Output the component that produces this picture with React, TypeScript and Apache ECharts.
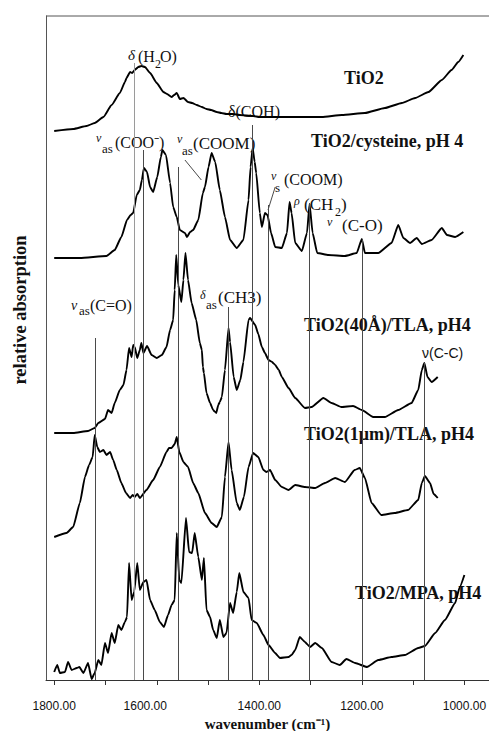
import React, { useEffect, useRef } from 'react';
import * as echarts from 'echarts';

// ---------------- DATA ----------------
const tickValues = [1800, 1700, 1600, 1500, 1400, 1300, 1200, 1100, 1000];
const labelValues = [1800, 1600, 1400, 1200, 1000];

const sampleNames = [
  'TiO2',
  'TiO2/cysteine, pH 4',
  'TiO2(40Å)/TLA, pH4',
  'TiO2(1μm)/TLA, pH4',
  'TiO2/MPA, pH4',
];

// [wavenumber (cm-1), relative absorption (stacked, a.u.)]
const tio2 = [
  [1800, 549], [1763, 551], [1737, 554], [1721, 557], [1704, 563], [1688, 575], [1672, 587],
  [1662, 598], [1659, 602], [1652, 608], [1648, 607], [1643, 610], [1636, 613], [1630, 614],
  [1623, 613], [1613, 607], [1600, 597], [1587, 588], [1580, 586], [1571, 583], [1566, 585],
  [1561, 587], [1555, 581], [1548, 582], [1539, 578], [1531, 577], [1522, 575], [1512, 573],
  [1503, 571], [1494, 570], [1483, 568], [1474, 567], [1464, 566], [1451, 566], [1438, 565],
  [1412, 564], [1400, 563], [1343, 563], [1278, 563], [1239, 565], [1194, 567], [1155, 572],
  [1122, 577], [1096, 582], [1070, 588], [1044, 600], [1025, 610], [1012, 618], [1002, 625],
];

const cysteine = [
  [1800, 422], [1750, 422], [1698, 424], [1682, 430], [1669, 443], [1658, 460], [1651, 465],
  [1646, 467], [1639, 485], [1633, 490], [1629, 500], [1625, 512], [1619, 508], [1613, 493],
  [1607, 488], [1599, 503], [1592, 523], [1589, 530], [1582, 525], [1574, 497], [1568, 473],
  [1561, 463], [1555, 450], [1545, 447], [1541, 443], [1535, 448], [1529, 450], [1519, 460],
  [1510, 487], [1506, 493], [1499, 513], [1493, 527], [1486, 518], [1477, 490], [1467, 463],
  [1457, 440], [1444, 432], [1431, 440], [1421, 480], [1417, 513], [1413, 532], [1409, 518],
  [1406, 507], [1399, 467], [1395, 453], [1389, 467], [1384, 465], [1377, 447], [1369, 433],
  [1356, 432], [1346, 447], [1341, 478], [1337, 467], [1330, 437], [1317, 429], [1307, 447],
  [1302, 476], [1296, 447], [1287, 427], [1265, 425], [1233, 424], [1210, 427], [1200, 441],
  [1194, 427], [1168, 427], [1142, 437], [1129, 455], [1119, 442], [1106, 437], [1093, 442],
  [1083, 436], [1064, 440], [1044, 452], [1034, 445], [1018, 443], [1002, 448],
];

const tla40 = [
  [1800, 247], [1763, 247], [1734, 249], [1721, 252], [1714, 257], [1701, 261], [1695, 270],
  [1688, 267], [1682, 277], [1672, 290], [1665, 295], [1659, 310], [1654, 332], [1649, 323],
  [1646, 335], [1643, 333], [1638, 322], [1633, 330], [1630, 337], [1626, 327], [1619, 334],
  [1610, 325], [1600, 322], [1590, 325], [1581, 333], [1574, 350], [1568, 360], [1565, 390],
  [1562, 425], [1558, 395], [1552, 378], [1548, 400], [1544, 427], [1539, 400], [1532, 377],
  [1523, 360], [1516, 337], [1512, 330], [1510, 313], [1508, 307], [1503, 287], [1496, 277],
  [1490, 270], [1484, 267], [1480, 275], [1477, 278], [1473, 283], [1467, 310], [1460, 352],
  [1457, 338], [1450, 303], [1444, 290], [1437, 300], [1431, 318], [1421, 360], [1418, 362],
  [1408, 355], [1402, 346], [1395, 333], [1389, 327], [1382, 320], [1375, 318], [1369, 315],
  [1362, 310], [1356, 303], [1343, 292], [1330, 282], [1311, 272], [1298, 273], [1275, 282],
  [1259, 277], [1240, 273], [1217, 274], [1200, 270], [1178, 263], [1155, 263], [1129, 270],
  [1103, 277], [1090, 290], [1083, 310], [1078, 317], [1072, 303], [1064, 298], [1052, 303],
];

const tla1um = [
  [1800, 143], [1776, 147], [1763, 153], [1750, 177], [1740, 203], [1732, 215], [1725, 223],
  [1721, 245], [1716, 233], [1711, 228], [1704, 230], [1698, 225], [1691, 228], [1685, 220],
  [1678, 210], [1669, 197], [1660, 187], [1652, 182], [1647, 185], [1643, 183], [1638, 186],
  [1633, 182], [1620, 190], [1607, 200], [1594, 213], [1581, 228], [1576, 232], [1571, 232],
  [1565, 236], [1561, 243], [1556, 228], [1548, 218], [1539, 213], [1529, 197], [1519, 187],
  [1506, 167], [1493, 157], [1483, 153], [1473, 163], [1467, 203], [1460, 238], [1454, 210],
  [1444, 177], [1438, 170], [1430, 183], [1421, 213], [1412, 227], [1402, 223], [1392, 210],
  [1386, 208], [1379, 210], [1369, 200], [1356, 193], [1343, 190], [1330, 195], [1311, 193],
  [1291, 192], [1272, 197], [1252, 202], [1233, 198], [1214, 210], [1204, 212], [1194, 202],
  [1181, 177], [1162, 165], [1136, 167], [1110, 170], [1090, 180], [1083, 197], [1077, 204],
  [1067, 197], [1060, 186], [1052, 182],
];

const mpa = [
  [1800, 8], [1794, 15], [1789, 7], [1779, 8], [1773, 18], [1766, 10], [1756, 12], [1751, 13],
  [1743, 7], [1734, 17], [1727, 1], [1721, 7], [1714, 20], [1708, 15], [1701, 37], [1695, 27],
  [1688, 47], [1682, 37], [1675, 55], [1669, 50], [1662, 58], [1658, 63], [1654, 117],
  [1649, 80], [1644, 88], [1638, 117], [1633, 90], [1626, 98], [1620, 100], [1613, 80],
  [1604, 70], [1594, 58], [1586, 53], [1578, 65], [1571, 75], [1565, 80], [1561, 147],
  [1556, 100], [1552, 97], [1543, 162], [1537, 128], [1531, 127], [1526, 147], [1519, 123],
  [1512, 100], [1508, 122], [1503, 70], [1496, 63], [1490, 50], [1483, 42], [1477, 60],
  [1470, 43], [1464, 47], [1457, 77], [1451, 67], [1444, 88], [1439, 107], [1431, 88],
  [1421, 82], [1415, 60], [1405, 57], [1392, 45], [1382, 35], [1369, 27], [1360, 22],
  [1343, 23], [1337, 25], [1330, 30], [1321, 43], [1311, 38], [1301, 33], [1291, 37],
  [1278, 32], [1259, 18], [1243, 15], [1230, 21], [1213, 17], [1190, 13], [1168, 20],
  [1142, 23], [1116, 25], [1090, 32], [1077, 34], [1057, 47], [1038, 60], [1018, 77],
  [1009, 93], [1000, 105],
];

// band assignment lines: wavenumber and the height where each line starts
const bandPositions = [1720, 1643, 1627, 1559, 1460, 1414, 1382, 1302, 1200, 1079];
const bandLineTops = [342, 617, 530, 513, 373, 555, 475, 477, 440, 317];
// pointer strokes from labels to bands
const pointerLines = [
  [[1545, 520], [1513, 500]],
  [[1369, 493], [1383, 470]],
];

// ---------------- LAYOUT ----------------
const SERIF = "'Liberation Serif', 'Times New Roman', serif";
const SANS = "'Liberation Sans', Arial, sans-serif";

type Frag = { t: string; x: number; y: number; s: number; w?: string; it?: boolean; sans?: boolean };
const FRAGS: Frag[] = [
  { t: sampleNames[0], x: 344, y: 78, s: 18, w: 'bold' },
  { t: sampleNames[1], x: 311, y: 140.5, s: 18, w: 'bold' },
  { t: sampleNames[2], x: 304, y: 324.5, s: 18, w: 'bold' },
  { t: sampleNames[3], x: 304, y: 434, s: 18, w: 'bold' },
  { t: sampleNames[4], x: 355, y: 592.5, s: 18, w: 'bold' },
  // δ(H2O)
  { t: 'δ', x: 128, y: 55, s: 15, it: true },
  { t: '(H', x: 138, y: 56, s: 16 },
  { t: '2', x: 155, y: 64, s: 12 },
  { t: 'O)', x: 160, y: 56, s: 16 },
  // δ(COH)
  { t: 'δ(COH)', x: 228, y: 111, s: 16 },
  // νas(COO-)
  { t: 'ν', x: 96, y: 138, s: 12, it: true },
  { t: 'as', x: 102, y: 148, s: 13 },
  { t: '(COO⁻)', x: 115, y: 142, s: 16 },
  // νas(COOM)
  { t: 'ν', x: 177, y: 139, s: 12, it: true },
  { t: 'as', x: 182, y: 150, s: 13 },
  { t: '(COOM)', x: 193, y: 143, s: 17 },
  // νs(COOM)
  { t: 'ν', x: 271, y: 176, s: 12, it: true },
  { t: 's', x: 275, y: 187, s: 13 },
  { t: '(COOM)', x: 284, y: 179.5, s: 16 },
  // ρ(CH2)
  { t: 'ρ', x: 294, y: 201, s: 12, it: true },
  { t: '(CH', x: 304, y: 204, s: 17 },
  { t: '2', x: 335, y: 211.5, s: 12 },
  { t: ')', x: 341, y: 204, s: 17 },
  // ν(C-O)
  { t: 'ν', x: 327, y: 222, s: 12, it: true },
  { t: '(C-O)', x: 342, y: 225, s: 17 },
  // νas(C=O)
  { t: 'ν', x: 71, y: 305, s: 14, it: true },
  { t: 'as', x: 79, y: 310, s: 13 },
  { t: '(C=O)', x: 90, y: 305.5, s: 16 },
  // δas(CH3)
  { t: 'δ', x: 200, y: 295, s: 12, it: true },
  { t: 'as', x: 206, y: 304, s: 13 },
  { t: '(CH3)', x: 218, y: 297, s: 17 },
  // ν(C-C)
  { t: 'ν(C-C)', x: 422, y: 353, s: 14, sans: true },
];

export default function App() {
  const ref = useRef<HTMLDivElement>(null);

  useEffect(() => {
    if (!ref.current) return;
    const chart = echarts.init(ref.current, null, { renderer: 'svg' });
    const spectra = [tio2, cysteine, tla40, tla1um, mpa];

    const series: any[] = spectra.map((d, i) => ({
      type: 'line',
      name: sampleNames[i],
      data: d,
      symbol: 'none',
      showSymbol: false,
      smooth: 0.15,
      smoothMonotone: 'x',
      silent: true,
      z: 3,
      lineStyle: { color: '#000', width: 1.9 },
    }));

    const markData: any[] = bandPositions.map((wn, i) => {
      const start: any = { coord: [wn, bandLineTops[i]] };
      if (wn === 1643) start.lineStyle = { color: '#9a9a9a', width: 1 };
      return [start, { coord: [wn, 0] }];
    });
    pointerLines.forEach(([a, b]) => markData.push([{ coord: a }, { coord: b }]));

    series.push({
      type: 'line',
      name: 'bands',
      data: [[1800, 0]],
      symbol: 'none',
      showSymbol: false,
      lineStyle: { opacity: 0 },
      silent: true,
      z: 2,
      markLine: {
        silent: true,
        symbol: ['none', 'none'],
        label: { show: false },
        lineStyle: { color: '#4a4a4a', width: 1, type: 'solid' },
        data: markData,
      },
    });

    const graphic: any[] = [
      {
        type: 'line',
        shape: { x1: 46, y1: 16, x2: 489, y2: 16 },
        style: { stroke: '#555', lineWidth: 1 },
        silent: true,
      },
      {
        type: 'text',
        x: 20,
        y: 310,
        rotation: Math.PI / 2,
        silent: true,
        style: {
          text: 'relative absorption',
          fontSize: 18.5,
          fontFamily: SERIF,
          fontWeight: 'bold',
          fill: '#111',
          textAlign: 'center',
          textVerticalAlign: 'middle',
          align: 'center',
          verticalAlign: 'middle',
        },
      },
      ...FRAGS.map((f) => ({
        type: 'text',
        x: f.x,
        y: f.y,
        silent: true,
        style: {
          text: f.t,
          fontSize: f.s,
          fontFamily: f.sans ? SANS : SERIF,
          fontWeight: f.w || 'normal',
          fontStyle: f.it ? 'italic' : 'normal',
          fill: '#111',
          textAlign: 'left',
          textVerticalAlign: 'middle',
          align: 'left',
          verticalAlign: 'middle',
        },
      })),
    ];

    chart.setOption({
      animation: false,
      backgroundColor: '#fff',
      grid: {
        left: 46,
        top: 16,
        width: 443,
        height: 664,
        containLabel: false,
        outerBoundsMode: 'none',
      },
      xAxis: {
        type: 'value',
        min: 952,
        max: 1816,
        inverse: true,
        name: 'wavenumber (cm⁻¹)',
        nameLocation: 'middle',
        nameGap: 33,
        nameTextStyle: { fontFamily: SERIF, fontWeight: 'bold', fontSize: 15, color: '#111' },
        axisLine: { show: true, lineStyle: { color: '#333', width: 1 } },
        axisTick: { show: true, customValues: tickValues, length: 5, inside: false, lineStyle: { color: '#333' } },
        axisLabel: {
          customValues: labelValues,
          margin: 20,
          fontFamily: SANS,
          fontSize: 12,
          color: '#111',
          formatter: (v: number) => (v === 1600 ? `{s|${v.toFixed(2)}}` : v.toFixed(2)),
          rich: { s: { padding: [0, 23, 0, 0], fontFamily: SANS, fontSize: 12, color: '#111' } },
        },
        splitLine: { show: false },
      },
      yAxis: {
        type: 'value',
        min: 0,
        max: 664,
        axisLine: { show: true, lineStyle: { color: '#555', width: 1 } },
        axisTick: { show: false },
        axisLabel: { show: false },
        splitLine: { show: false },
      },
      series,
      graphic,
    });

    return () => chart.dispose();
  }, []);

  return (
    <div
      ref={ref}
      style={{ position: 'fixed', left: 0, top: 0, width: 489, height: 731, background: '#fff' }}
    />
  );
}
